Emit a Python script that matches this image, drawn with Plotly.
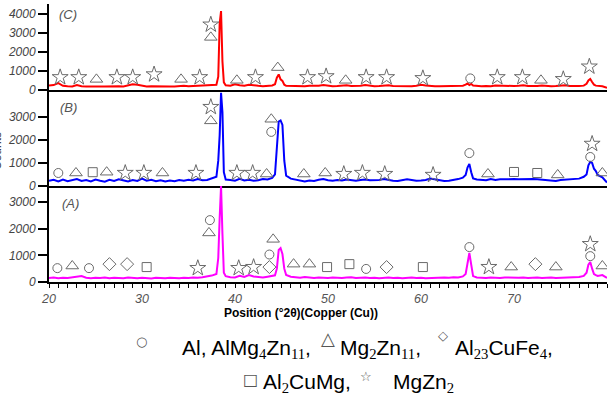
import plotly.graph_objects as go
from plotly.subplots import make_subplots

# ---------------- data ----------------
two_theta = [20.0, 20.5, 21.0, 21.5, 22.0, 22.5, 23.0, 23.5, 24.0, 24.5, 25.0, 25.5,
             26.0, 26.5, 27.0, 27.5, 28.0, 28.5, 29.0, 29.5, 30.0, 30.5, 31.0, 31.5,
             32.0, 32.5, 33.0, 33.5, 34.0, 34.5, 35.0, 35.5, 36.0, 36.5, 37.0, 37.5,
             38.0, 38.2, 38.35, 38.5, 38.65, 38.8, 39.0,
             39.5, 40.0, 40.5, 41.0, 41.5, 42.0, 42.5, 43.0, 43.5, 44.0,
             44.3, 44.5, 44.7, 44.9, 45.1, 45.3, 45.5,
             46.0, 46.5, 47.0, 47.5, 48.0, 48.5, 49.0, 49.5, 50.0, 50.5, 51.0, 51.5,
             52.0, 52.5, 53.0, 53.5, 54.0, 54.5, 55.0, 55.5, 56.0, 56.5, 57.0, 57.5,
             58.0, 58.5, 59.0, 59.5, 60.0, 60.5, 61.0, 61.5, 62.0, 62.5, 63.0, 63.5,
             64.0, 64.5,
             64.8, 65.0, 65.2, 65.4, 65.6,
             66.0, 66.5, 67.0, 67.5, 68.0, 68.5, 69.0, 69.5, 70.0, 70.5, 71.0, 71.5,
             72.0, 72.5, 73.0, 73.5, 74.0, 74.5, 75.0, 75.5, 76.0, 76.5, 77.0, 77.5,
             77.8, 78.0, 78.2, 78.4, 78.6, 78.8, 79.0,
             79.5, 80.0]

counts_C = [230, 260, 360, 220, 200, 190, 260, 200, 190, 200, 210, 190,
            180, 190, 210, 200, 190, 230, 300, 280, 220, 190, 200, 190,
            190, 200, 190, 190, 210, 220, 200, 210, 240, 220, 230, 250,
            280, 700, 3500, 4150, 1500, 400, 250,
            220, 300, 250, 220, 280, 240, 220, 200, 210, 240,
            300, 650, 820, 560, 480, 280, 220,
            210, 200, 210, 200, 220, 210, 230, 260, 220, 200, 210, 230,
            250, 210, 200, 220, 260, 230, 200, 210, 230, 250, 210, 200,
            200, 210, 200, 220, 270, 240, 210, 200, 200, 210, 200, 210,
            220, 230,
            280, 340, 260, 320, 240,
            210, 200, 210, 200, 240, 230, 200, 200, 210, 220, 250, 210,
            200, 210, 240, 210, 200, 210, 240, 250, 210, 200, 210, 230,
            330, 500, 580, 420, 280, 230, 220,
            200, 120]

counts_B = [230, 270, 200, 280, 210, 250, 300, 220, 260, 200, 280, 230,
            190, 270, 220, 290, 240, 200, 260, 220, 320, 230, 270, 210,
            250, 200, 240, 210, 260, 230, 270, 240, 300, 250, 260, 320,
            400, 1100, 2200, 4050, 3200, 600, 280,
            260, 230, 310, 240, 270, 230, 250, 300, 280, 350,
            500, 1500, 2800, 2850, 2650, 1100, 450,
            320, 280, 250, 200, 240, 220, 270, 300, 250, 230, 260, 240,
            280, 250, 230, 260, 280, 250, 240, 260, 300, 260, 230, 220,
            250, 290, 260, 230, 240, 260, 320, 280, 240, 220, 230, 260,
            300, 360,
            480, 800, 960, 600, 330,
            280, 260, 250, 300, 260, 290, 300, 310, 300, 290, 300, 310,
            300, 290, 280, 260, 230, 220, 260, 280, 270, 290, 320, 400,
            500, 900, 1050, 1000, 750, 650, 480,
            380, 150]

counts_A = [150, 170, 140, 160, 150, 170, 190, 220, 160, 140, 160, 150,
            170, 140, 160, 150, 140, 170, 150, 140, 160, 150, 130, 160,
            150, 140, 160, 150, 140, 160, 150, 170, 160, 180, 200, 240,
            300, 900, 2400, 3600, 1800, 350, 220,
            180, 170, 230, 190, 260, 210, 180, 170, 200, 220,
            250, 500, 1200, 1270, 1050, 500, 260,
            200, 170, 160, 190, 170, 150, 170, 160, 150, 170, 160, 150,
            170, 180, 150, 160, 170, 150, 160, 140, 160, 170, 150, 160,
            140, 150, 170, 150, 160, 140, 150, 160, 150, 170, 160, 180,
            170, 210,
            300, 700, 1090, 650, 220,
            170, 160, 150, 170, 160, 150, 170, 160, 150, 160, 170, 150,
            160, 170, 150, 160, 170, 150, 160, 170, 160, 180, 190, 230,
            350, 650, 750, 500, 300, 260, 230,
            260, 150]

# phase markers, panel (C)
C_star_x = [21.2, 23.2, 27.3, 29.0, 31.3, 36.2, 37.4, 42.2, 47.8, 49.8, 54.1, 56.3, 60.2, 68.2, 70.9, 75.3, 78.1]
C_star_y = [670, 670, 670, 670, 820, 670, 3440, 670, 670, 720, 670, 670, 620, 670, 670, 570, 1230]
C_tri_x = [25.1, 34.2, 37.4, 40.2, 44.6, 51.9, 72.9]
C_tri_y = [560, 560, 2770, 510, 1180, 510, 510]
C_circ_x = [65.3]
C_circ_y = [610]

# phase markers, panel (B)
B_circ_x = [21.0, 43.9, 65.2, 78.2]
B_circ_y = [565, 2350, 1430, 1260]
B_tri_x = [22.9, 26.2, 32.2, 37.4, 43.4, 43.9, 47.4, 49.7, 67.2, 74.7, 79.5]
B_tri_y = [565, 600, 565, 2830, 520, 2900, 520, 565, 520, 480, 565]
B_sq_x = [24.7, 70.0, 72.5]
B_sq_y = [600, 610, 565]
B_star_x = [28.2, 30.2, 35.8, 37.4, 40.2, 41.9, 51.7, 53.7, 56.1, 61.3, 78.4]
B_star_y = [565, 565, 565, 3430, 565, 565, 520, 565, 520, 480, 1830]

# phase markers, panel (A)
A_circ_x = [20.9, 24.3, 37.3, 43.7, 54.1, 65.2, 78.2]
A_circ_y = [520, 520, 2320, 1030, 490, 1310, 970]
A_tri_x = [22.5, 37.2, 44.1, 46.3, 48.0, 69.7, 74.5, 79.5]
A_tri_y = [600, 1840, 1600, 670, 670, 560, 560, 600]
A_dia_x = [26.5, 28.4, 43.7, 56.3, 72.3]
A_dia_y = [670, 670, 560, 560, 670]
A_sq_x = [30.5, 49.9, 52.3, 60.2]
A_sq_y = [560, 560, 670, 560]
A_star_x = [36.0, 40.4, 42.0, 67.3, 78.2]
A_star_y = [520, 520, 560, 560, 1420]

y_ticks_C = [0, 1000, 2000, 3000, 4000]
y_ticks_AB = [0, 1000, 2000, 3000]
x_ticks = [20, 30, 40, 50, 60, 70, 80]

# ---------------- figure ----------------
W, H = 613, 402
L, R, T, B = 49, 6, 4, 120
PW, PH = W - L - R, H - T - B


def px(xp):
    return (xp - L) / PW


def py(yp):
    return (H - B - yp) / PH


fig = make_subplots(rows=3, cols=1, shared_xaxes=True, vertical_spacing=0)

MK = "#6a6a6a"
sym = {
    "circ": ("circle-open", 9),
    "tri": ("triangle-up-open", 11),
    "dia": ("diamond-open", 10),
    "sq": ("square-open", 9),
    "star": ("star-open", 12),
}


def add_markers(xs, ys, kind, row):
    s, size = sym[kind]
    fig.add_trace(go.Scatter(x=xs, y=ys, mode="markers",
                             marker=dict(symbol=s, size=size, color=MK,
                                         line=dict(color=MK, width=1)),
                             hoverinfo="skip"), row=row, col=1)


fig.add_trace(go.Scatter(x=two_theta, y=counts_C, mode="lines",
                         line=dict(color="#ff0000", width=2)), row=1, col=1)
fig.add_trace(go.Scatter(x=two_theta, y=counts_B, mode="lines",
                         line=dict(color="#0000ff", width=2)), row=2, col=1)
fig.add_trace(go.Scatter(x=two_theta, y=counts_A, mode="lines",
                         line=dict(color="#ff00ff", width=2)), row=3, col=1)

add_markers(C_star_x, C_star_y, "star", 1)
add_markers(C_tri_x, C_tri_y, "tri", 1)
add_markers(C_circ_x, C_circ_y, "circ", 1)
add_markers(B_circ_x, B_circ_y, "circ", 2)
add_markers(B_tri_x, B_tri_y, "tri", 2)
add_markers(B_sq_x, B_sq_y, "sq", 2)
add_markers(B_star_x, B_star_y, "star", 2)
add_markers(A_circ_x, A_circ_y, "circ", 3)
add_markers(A_tri_x, A_tri_y, "tri", 3)
add_markers(A_dia_x, A_dia_y, "dia", 3)
add_markers(A_sq_x, A_sq_y, "sq", 3)
add_markers(A_star_x, A_star_y, "star", 3)

FONT = "Arial, Liberation Sans, sans-serif"
tickfont = dict(family=FONT, size=12, color="#444444", style="italic")

dom_A = [0, py(186)]
dom_B = [py(186), py(90)]
dom_C = [py(90), 1]

yax_common = dict(showline=True, linecolor="black", linewidth=2, ticks="outside",
                  ticklen=9, tickwidth=2, tickcolor="black", showgrid=False,
                  zeroline=False, tickfont=tickfont)
fig.update_layout(
    yaxis=dict(domain=dom_C, range=[0, 4526], tickvals=y_ticks_C, **yax_common),
    yaxis2=dict(domain=dom_B, range=[0, 4170], tickvals=y_ticks_AB, **yax_common),
    yaxis3=dict(domain=dom_A, range=[0, 3600], tickvals=y_ticks_AB, **yax_common),
)
xax_common = dict(range=[20, 80], showline=True, linecolor="black", linewidth=2,
                  showgrid=False, zeroline=False)
fig.update_xaxes(showticklabels=False, ticks="", **xax_common, row=1, col=1)
fig.update_xaxes(showticklabels=False, ticks="", **xax_common, row=2, col=1)
fig.update_xaxes(showticklabels=True, ticks="outside", ticklen=4, tickwidth=1,
                 tickcolor="black", tickvals=x_ticks,
                 minor=dict(dtick=1, ticks="outside", ticklen=4, tickwidth=1, tickcolor="black"),
                 tickfont=dict(family=FONT, size=12.5, color="#555555", style="italic"),
                 **xax_common, row=3, col=1)

ann = []
lab_font = dict(family=FONT, size=13, color="#555555", style="italic")
for txt, xp, yp in [("(C)", 68, 15), ("(B)", 68, 107), ("(A)", 70, 203)]:
    ann.append(dict(text=txt, x=px(xp), y=py(yp), xref="paper", yref="paper",
                    xanchor="center", yanchor="middle", showarrow=False, font=lab_font))

ann.append(dict(text="<b>Position (°2θ)(Copper (Cu))</b>", x=px(301), y=py(313),
                xref="paper", yref="paper", xanchor="center", yanchor="middle",
                showarrow=False, borderpad=0, font=dict(family=FONT, size=12, color="black")))

ann.append(dict(text="Counts", x=px(-3), y=py(151), xref="paper", yref="paper",
                xanchor="center", yanchor="middle", textangle=-90, showarrow=False,
                font=dict(family=FONT, size=12, color="#444444")))

SER = "font-family:Liberation Serif"


def sub(s):
    return "<sub><span style='%s'>%s</span></sub>" % (SER, s)


leg_font = dict(family=FONT, size=21, color="black")
sym_font = dict(family="DejaVu Sans", color="#555555")
legend_text = [
    ("Al, AlMg" + sub("4") + "Zn" + sub("11") + ",", 181, 349),
    ("Mg" + sub("2") + "Zn" + sub("11") + ",", 339, 349),
    ("Al" + sub("23") + "CuFe" + sub("4") + ",", 454, 349),
    ("Al" + sub("2") + "CuMg,", 262, 383),
    ("MgZn" + sub("2"), 392, 383),
]
for txt, xp, yp in legend_text:
    ann.append(dict(text=txt, x=px(xp), y=py(yp), xref="paper", yref="paper",
                    xanchor="left", yanchor="middle", showarrow=False, borderpad=0,
                    font=leg_font))
legend_syms = [("○", 141, 341, 13), ("△", 328, 338, 18), ("◇", 443, 335, 13),
               ("□", 250, 379, 16), ("☆", 366, 376, 13)]
for g, xp, yp, fs in legend_syms:
    ann.append(dict(text=g, x=px(xp), y=py(yp), xref="paper", yref="paper",
                    xanchor="center", yanchor="middle", showarrow=False, borderpad=0,
                    font=dict(size=fs, **sym_font)))

fig.update_layout(width=W, height=H, margin=dict(l=L, r=R, t=T, b=B),
                  paper_bgcolor="white", plot_bgcolor="white", showlegend=False,
                  annotations=ann)

fig.write_html("out.html", config={"displayModeBar": False},
               post_script="document.body.style.margin='0px';")
